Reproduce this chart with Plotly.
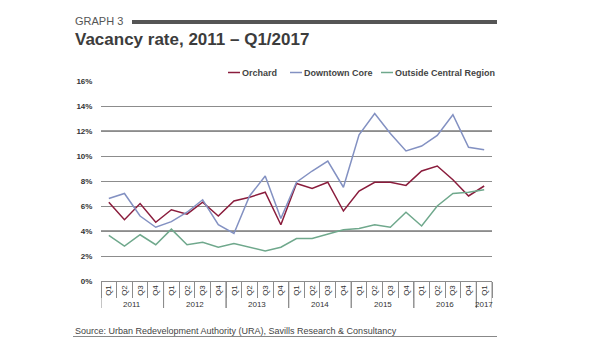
import plotly.graph_objects as go

years = ["2011"] * 4 + ["2012"] * 4 + ["2013"] * 4 + ["2014"] * 4 + ["2015"] * 4 + ["2016"] * 4 + ["2017"]
quarters = ["Q1", "Q2", "Q3", "Q4"] * 6 + ["Q1"]

orchard = [6.3, 4.9, 6.2, 4.7, 5.7, 5.35, 6.3, 5.2, 6.4, 6.7, 7.1, 4.5,
           7.8, 7.4, 7.9, 5.6, 7.2, 7.9, 7.9, 7.65, 8.8, 9.2, 8.1, 6.8, 7.6]
downtown = [6.6, 7.0, 5.2, 4.3, 4.75, 5.5, 6.5, 4.5, 3.8, 6.8, 8.4, 5.0,
            7.9, 8.8, 9.6, 7.5, 11.7, 13.4, 11.8, 10.4, 10.8, 11.65, 13.3, 10.7, 10.5]
outside = [3.65, 2.8, 3.7, 2.9, 4.15, 2.9, 3.1, 2.7, 3.0, 2.7, 2.4, 2.7,
           3.4, 3.4, 3.75, 4.1, 4.2, 4.5, 4.3, 5.5, 4.4, 6.0, 7.0, 7.1, 7.3]

series = [("Orchard", orchard, "#8a1c3c"),
          ("Downtown Core", downtown, "#8391c2"),
          ("Outside Central Region", outside, "#6fa88c")]

y_ticks = [0, 2, 4, 6, 8, 10, 12, 14, 16]
y_labels = [f"{v}%" for v in y_ticks]
dark_grid = [4, 12]

FONT = "Liberation Sans, Arial, sans-serif"
GRID = "#8c8c8c"

periods = [f"{q} {y}" for q, y in zip(quarters, years)]

fig = go.Figure()
for name, vals, col in series:
    fig.add_trace(go.Scatter(x=periods, y=vals, mode="lines", name=name,
                             line=dict(color=col, width=1.5), showlegend=False))

fig.update_layout(
    width=600, height=360,
    margin=dict(l=101, r=108, t=81, b=79),
    paper_bgcolor="white", plot_bgcolor="white",
    font=dict(family=FONT, color="#333333"),
    xaxis=dict(type="category", categoryorder="array", categoryarray=periods,
               range=[-0.5, len(periods) - 0.5],
               tickvals=periods, ticktext=quarters, tickson="boundaries",
               showgrid=False, showline=True, linecolor=GRID, linewidth=1,
               ticks="outside", ticklen=16, tickcolor=GRID, tickwidth=1,
               tickangle=-90, tickfont=dict(size=8, color="#333333"),
               zeroline=False, fixedrange=True),
    yaxis=dict(range=[0, 16], tickvals=y_ticks, ticktext=y_labels,
               showgrid=True, gridcolor=GRID, gridwidth=1, zeroline=False,
               showline=False, ticks="outside", ticklen=6, tickcolor="rgba(0,0,0,0)",
               tickfont=dict(size=8, color="#333333", weight="bold"),
               fixedrange=True),
)

pw, ph = 600 - 101 - 108, 360 - 81 - 79
def px(x): return (x - 101) / pw
def py(y): return (360 - 79 - y) / ph

shapes = []
for g in dark_grid:
    shapes.append(dict(type="line", xref="paper", yref="y", x0=0, x1=1, y0=g, y1=g,
                       layer="below", line=dict(color="#3a3a3a", width=1)))

# year group labels and dividers
groups = []
for i, y in enumerate(years):
    if not groups or groups[-1][0] != y:
        groups.append([y, i, i])
    else:
        groups[-1][2] = i
for y, i0, i1 in groups:
    fig.add_annotation(x=(i0 + i1) / 2, y=py(304), xref="x", yref="paper", text=y,
                       showarrow=False, xanchor="center", yanchor="middle",
                       font=dict(size=8, color="#333333"))
    for b in (i0 - 0.5, i1 + 0.5):
        shapes.append(dict(type="line", xref="x", yref="paper", x0=b, x1=b,
                           y0=py(281), y1=py(308), line=dict(color=GRID, width=1)))

# header
def pa(x, y, text, size, color, **kw):
    fig.add_annotation(x=px(x), y=py(y), xref="paper", yref="paper", text=text, showarrow=False,
                       xanchor="left", yanchor="middle", font=dict(size=size, color=color), **kw)

pa(73, 21, "GRAPH 3", 11, "#555555")
pa(73, 39, "<b>Vacancy rate, 2011 – Q1/2017</b>", 17, "#3c3c3c")
pa(73, 331, "Source: Urban Redevelopment Authority (URA), Savills Research & Consultancy", 9, "#444444")

def ps(**s):
    s["xref"] = "paper"; s["yref"] = "paper"
    s["x0"], s["x1"] = px(s["x0"]), px(s["x1"])
    s["y0"], s["y1"] = py(s["y0"]), py(s["y1"])
    shapes.append(s)

ps(type="rect", x0=132, x1=497, y0=20, y1=24, fillcolor="#555555", line=dict(width=0))
ps(type="line", x0=73, x1=497, y0=336.5, y1=336.5, line=dict(color="#888888", width=1))

# legend drawn manually
legend_x = [228, 290, 381]
for x0, (name, _, col) in zip(legend_x, series):
    ps(type="line", x0=x0, x1=x0 + 12, y0=72.5, y1=72.5, line=dict(color=col, width=1.5))
    pa(x0 + 12, 72.5, f"<b>{name}</b>", 9, "#444444")

fig.update_layout(shapes=shapes)
fig.write_html("out.html", config={"displayModeBar": False, "staticPlot": True},
               post_script="document.body.style.margin='0';document.body.style.padding='0';")
